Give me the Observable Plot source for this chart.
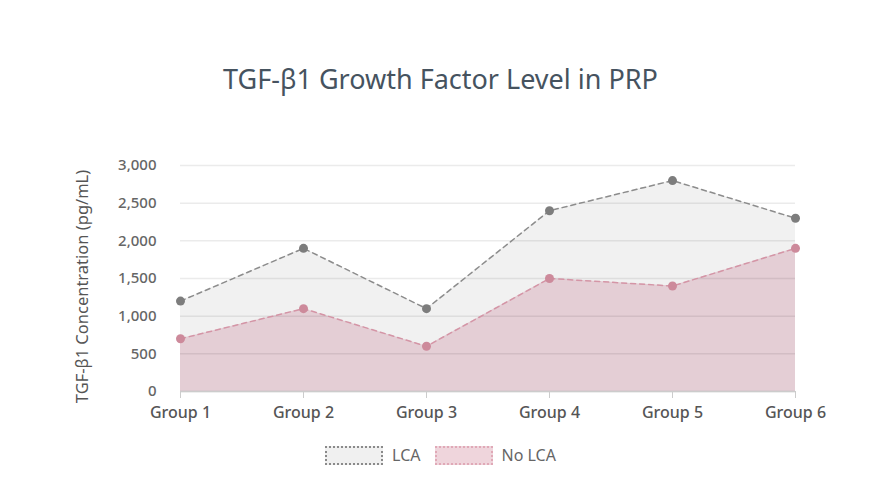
<!DOCTYPE html>
<html>
<head>
<meta charset="utf-8">
<script src="https://cdn.jsdelivr.net/npm/d3@7"></script>
<script src="https://cdn.jsdelivr.net/npm/@observablehq/plot@0.6"></script>
<style>
  body { margin: 0; background: #fff; font-family: "Inter", "Noto Sans", sans-serif; }
  #wrap { position: relative; width: 881px; height: 492px; }
  #title { position: absolute; top: 60px; left: 0; width: 881px; text-align: center; font-size: 27px; color: #46535f; font-family: "Noto Sans", sans-serif; }
  #chart { position: absolute; top: 140px; left: 0; }
  #legend { position: absolute; top: 444px; left: 0; width: 881px; display: flex; justify-content: center; align-items: center; font-size: 16px; color: #666; font-family: "Noto Sans", sans-serif; }
  .sw { width: 54px; height: 15px; margin-right: 9px; }
  .item { display: flex; align-items: center; margin: 0 7px; }
</style>
</head>
<body>
<div id="wrap">
  <div id="title">TGF-β1 Growth Factor Level in PRP</div>
  <div id="chart"></div>
  <div id="legend">
    <div class="item"><div class="sw" style="background:#f0f0f0;border:2px dotted #8a8a8a"></div>LCA</div>
    <div class="item"><div class="sw" style="background:#efd5dc;border:2px dotted #e0a9b7"></div>No LCA</div>
  </div>
</div>
<script>
const groups = ["Group 1", "Group 2", "Group 3", "Group 4", "Group 5", "Group 6"];
const lca = [1200, 1900, 1100, 2400, 2800, 2300];
const noLca = [700, 1100, 600, 1500, 1400, 1900];
const yTicks = [0, 500, 1000, 1500, 2000, 2500, 3000];

const dLca = groups.map((g, i) => ({group: g, value: lca[i]}));
const dNo = groups.map((g, i) => ({group: g, value: noLca[i]}));

const chart = Plot.plot({
  width: 881,
  height: 296,
  marginTop: 25,
  marginBottom: 45,
  marginLeft: 180,
  marginRight: 86,
  style: {fontFamily: "Noto Sans, sans-serif", fontSize: "15px", color: "#666"},
  x: {type: "point", domain: groups, padding: 0, label: null},
  y: {domain: [0, 3000], ticks: yTicks, label: null},
  marks: [
    Plot.areaY(dLca, {x: "group", y: "value", fill: "#f1f1f1", curve: "linear"}),
    Plot.areaY(dNo, {x: "group", y: "value", fill: "#e4ced5", curve: "linear"}),
    Plot.gridY(yTicks, {stroke: "#000", strokeOpacity: 0.08, strokeWidth: 1.5}),
    Plot.ruleY([0], {stroke: "#ccc", strokeWidth: 1.5}),
    Plot.axisX({tickSize: 7, stroke: "#ccc", tickPadding: 8, fill: "#555", fontSize: 16, fontWeight: 500}),
    Plot.axisY({ticks: yTicks, tickSize: 0, tickPadding: 24, tickFormat: d3.format(","), fill: "#666", fontSize: 15, fontWeight: 500}),
    Plot.lineY(dLca, {x: "group", y: "value", stroke: "#8c8c8c", strokeWidth: 1.5, strokeDasharray: "5,4"}),
    Plot.lineY(dNo, {x: "group", y: "value", stroke: "#d495a6", strokeWidth: 1.5, strokeDasharray: "5,4"}),
    Plot.dot(dLca, {x: "group", y: "value", r: 4.5, fill: "#7d7d7d"}),
    Plot.dot(dNo, {x: "group", y: "value", r: 4.5, fill: "#cd8a9b"}),
    Plot.text(["TGF-β1 Concentration (pg/mL)"], {frameAnchor: "left", dx: -98, dy: 8, rotate: -90, textAnchor: "middle", fontSize: 16.5, fill: "#555"})
  ]
});
document.getElementById("chart").appendChild(chart);
</script>
</body>
</html>
